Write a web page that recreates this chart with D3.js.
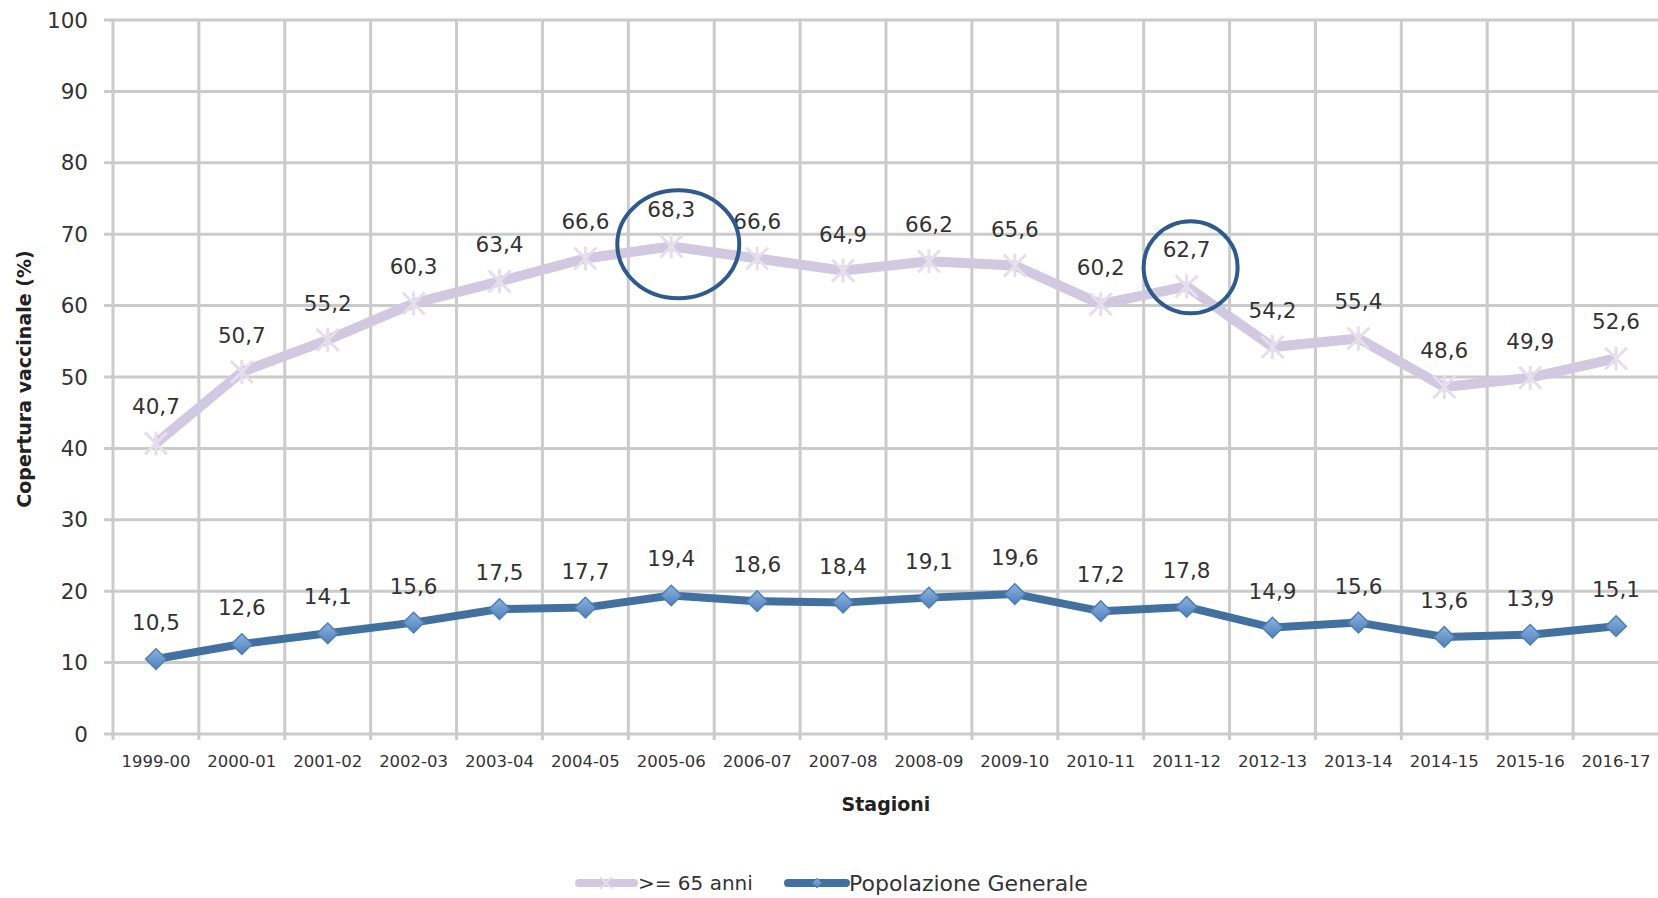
<!DOCTYPE html>
<html>
<head>
<meta charset="UTF-8">
<title>Copertura vaccinale</title>
<script src="https://cdn.jsdelivr.net/npm/d3@7"></script>
<style>
  body { margin: 0; background: #fff; }
  svg { display: block; font-family: "DejaVu Sans", Verdana, sans-serif; }
</style>
</head>
<body>
<div id="chart"></div>
<script>
// data
var seasons = ["1999-00","2000-01","2001-02","2002-03","2003-04","2004-05","2005-06","2006-07","2007-08",
               "2008-09","2009-10","2010-11","2011-12","2012-13","2013-14","2014-15","2015-16","2016-17"];
var over65 = [40.7, 50.7, 55.2, 60.3, 63.4, 66.6, 68.3, 66.6, 64.9, 66.2, 65.6, 60.2, 62.7, 54.2, 55.4, 48.6, 49.9, 52.6];
var general = [10.5, 12.6, 14.1, 15.6, 17.5, 17.7, 19.4, 18.6, 18.4, 19.1, 19.6, 17.2, 17.8, 14.9, 15.6, 13.6, 13.9, 15.1];
var yTicks = [0, 10, 20, 30, 40, 50, 60, 70, 80, 90, 100];
var circled = ["2005-06", "2011-12"];   // hand drawn rings

var W = 1658, H = 898;
var plotL = 113, plotR = 1659, plotT = 20, plotB = 734;

var svg = d3.select("#chart").append("svg").attr("width", W).attr("height", H);

var x = d3.scaleBand().domain(seasons).range([plotL, plotR]);
var y = d3.scaleLinear().domain([0, 100]).range([plotB, plotT]);
var fmt = function(v) { return d3.format(".1f")(v).replace(".", ","); };

// grid
var grid = svg.append("g").attr("stroke", "#cbcbcb").attr("stroke-width", 3);
grid.selectAll(".h").data(yTicks).enter().append("line")
    .attr("x1", plotL - 9).attr("x2", plotR).attr("y1", d => y(d)).attr("y2", d => y(d));
grid.selectAll(".v").data(seasons).enter().append("line")
    .attr("x1", d => x(d)).attr("x2", d => x(d)).attr("y1", plotT).attr("y2", plotB + 6);

// y labels
svg.append("g").selectAll("text").data(yTicks).enter().append("text")
    .attr("x", 88).attr("y", d => y(d)).attr("dy", "0.35em")
    .attr("text-anchor", "end").attr("font-size", 21.5).attr("fill", "#333")
    .text(d => d);

// x labels
svg.append("g").selectAll("text").data(seasons).enter().append("text")
    .attr("x", d => x(d) + x.bandwidth() / 2).attr("y", 767)
    .attr("text-anchor", "middle").attr("font-size", 16.5).attr("fill", "#333")
    .text(d => d);

svg.append("text").attr("x", 886).attr("y", 811).attr("text-anchor", "middle")
    .attr("font-size", 19).attr("font-weight", "bold").attr("fill", "#222").text("Stagioni");

svg.append("text").attr("transform", "translate(31,379) rotate(-90)").attr("text-anchor", "middle")
    .attr("font-size", 19).attr("font-weight", "bold").attr("fill", "#222").text("Copertura vaccinale (%)");

var cx = function(d, i) { return x(seasons[i]) + x.bandwidth() / 2; };
var line = d3.line().x(cx).y(d => y(d));

var defs = svg.append("defs");
var grad = defs.append("linearGradient").attr("id", "dia").attr("x1", 0).attr("y1", 0).attr("x2", 0).attr("y2", 1);
grad.append("stop").attr("offset", "0%").attr("stop-color", "#8cb3e0");
grad.append("stop").attr("offset", "100%").attr("stop-color", "#4f7fba");

// >= 65 series
svg.append("path").datum(over65).attr("d", line)
    .attr("fill", "none").attr("stroke", "#d0c9df").attr("stroke-width", 10).attr("stroke-linejoin", "round");
svg.append("g").selectAll("path").data(over65).enter().append("path")
    .attr("transform", (d, i) => "translate(" + cx(d, i) + "," + y(d) + ")")
    .attr("d", "M-11,-11L11,11M-11,11L11,-11M0,-12L0,12")
    .attr("stroke", "#e4dfec").attr("stroke-width", 3);

// popolazione generale
svg.append("path").datum(general).attr("d", line)
    .attr("fill", "none").attr("stroke", "#43719f").attr("stroke-width", 8).attr("stroke-linejoin", "round");
svg.append("g").selectAll("path").data(general).enter().append("path")
    .attr("transform", (d, i) => "translate(" + cx(d, i) + "," + y(d) + ")")
    .attr("d", d3.symbol().type(d3.symbolDiamond2).size(270))
    .attr("fill", "url(#dia)").attr("stroke", "#4f7fb4").attr("stroke-width", 1.5);

// value labels
[over65, general].forEach(function(s) {
  svg.append("g").selectAll("text").data(s).enter().append("text")
      .attr("x", cx).attr("y", d => y(d) - 29)
      .attr("text-anchor", "middle").attr("font-size", 21.5).attr("fill", "#333")
      .text(fmt);
});

// rings
var rings = [{ s: circled[0], rx: 61, ry: 54, dx: 7, dy: -2 }, { s: circled[1], rx: 47, ry: 46, dx: 4, dy: -19 }];
svg.append("g").selectAll("ellipse").data(rings).enter().append("ellipse")
    .attr("cx", d => x(d.s) + x.bandwidth() / 2 + d.dx)
    .attr("cy", d => y(over65[seasons.indexOf(d.s)]) + d.dy)
    .attr("rx", d => d.rx).attr("ry", d => d.ry)
    .attr("fill", "none").attr("stroke", "#2f5a8c").attr("stroke-width", 4);

// legend
var lg = svg.append("g").attr("transform", "translate(0,883)");
lg.append("line").attr("x1", 579).attr("x2", 634).attr("stroke", "#d0c9df").attr("stroke-width", 8).attr("stroke-linecap", "round");
lg.append("path").attr("transform", "translate(606,0)").attr("d", "M-6,-6L6,6M-6,6L6,-6")
    .attr("stroke", "#e4dfec").attr("stroke-width", 2);
lg.append("text").attr("x", 638).attr("dy", "0.35em").attr("font-size", 20).attr("fill", "#333").text(">= 65 anni");
lg.append("line").attr("x1", 788).attr("x2", 846).attr("stroke", "#43719f").attr("stroke-width", 8).attr("stroke-linecap", "round");
lg.append("path").attr("transform", "translate(817,0)").attr("d", d3.symbol().type(d3.symbolDiamond2).size(60))
    .attr("fill", "url(#dia)").attr("stroke", "#4f7fb4");
lg.append("text").attr("x", 849).attr("dy", "0.35em").attr("font-size", 22).attr("fill", "#333").text("Popolazione Generale");
</script>
</body>
</html>
